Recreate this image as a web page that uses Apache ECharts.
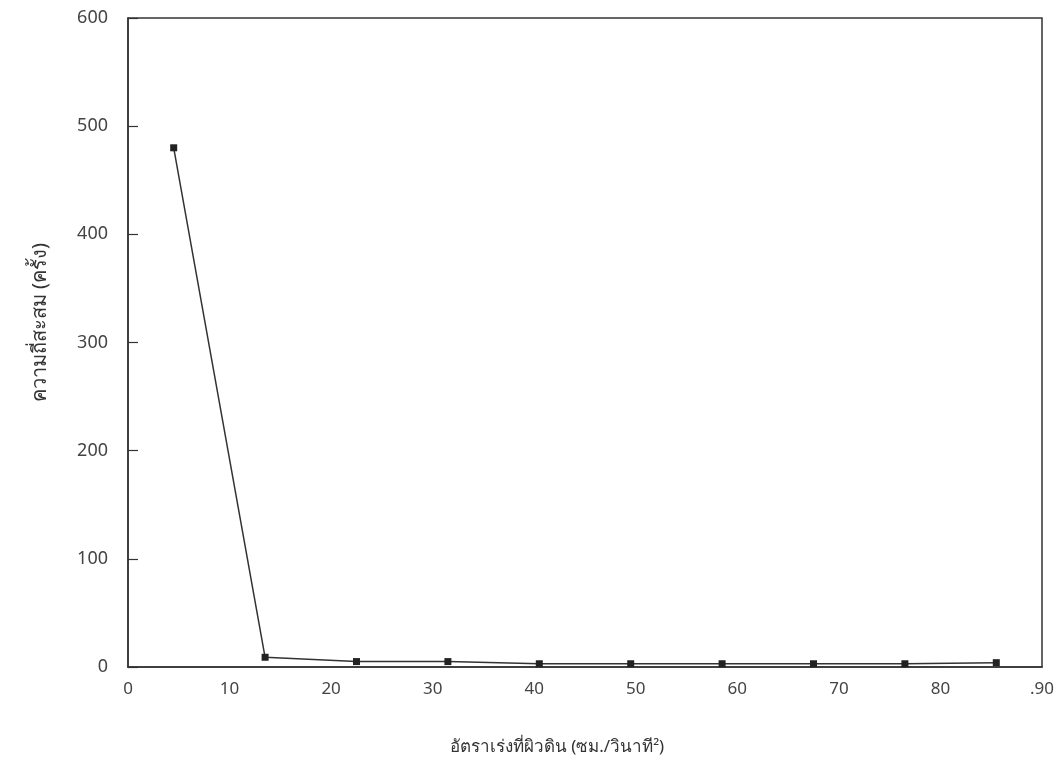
<!DOCTYPE html>
<html>
<head>
<meta charset="utf-8">
<script src="https://cdn.jsdelivr.net/npm/echarts@6/dist/echarts.min.js"></script>
<style>html,body{margin:0;padding:0;background:#fff}#c{width:1060px;height:780px}</style>
</head>
<body>
<div id="c"></div>
<script>
const xValues = [4.5, 13.5, 22.5, 31.5, 40.5, 49.5, 58.5, 67.5, 76.5, 85.5];
const yValues = [480, 9, 5, 5, 3, 3, 3, 3, 3, 4];
const xTitle = 'อัตราเร่งที่ผิวดิน (ซม./วินาที²)';
const yTitle = 'ความถี่สะสม (ครั้ง)';

const font = '"Noto Sans", "DejaVu Sans", sans-serif';
const chart = echarts.init(document.getElementById('c'));
chart.setOption({
  backgroundColor: '#fff',
  animation: false,
  grid: {left: 128, right: 18, top: 18, bottom: 113, containLabel: false, outerBoundsMode: 'none',
    show: true, borderColor: '#333', borderWidth: 1.5, backgroundColor: 'transparent'},
  xAxis: {
    type: 'value', min: 0, max: 90, interval: 10,
    name: xTitle, nameLocation: 'middle', nameGap: 72,
    nameTextStyle: {color: '#333', fontSize: 17, fontFamily: font, padding: [0, 56, 0, 0]},
    axisLine: {show: true, lineStyle: {color: '#333', width: 1.5}},
    axisTick: {show: false},
    splitLine: {show: false},
    axisLabel: {color: '#444', fontSize: 17, margin: 14, fontFamily: font,
      formatter: v => v === 90 ? '.90' : String(v)}
  },
  yAxis: {
    type: 'value', min: 0, max: 600, interval: 100,
    name: yTitle, nameLocation: 'middle', nameGap: 78, nameRotate: 90,
    nameTextStyle: {color: '#333', fontSize: 20, fontFamily: font, padding: [0, 0, 0, 40]},
    axisLine: {show: true, lineStyle: {color: '#333', width: 1.5}},
    axisTick: {show: true, inside: true, length: 10, lineStyle: {color: '#333', width: 1.2}},
    splitLine: {show: false},
    axisLabel: {color: '#444', fontSize: 18, margin: 20, fontFamily: font}
  },
  series: [{
    type: 'line',
    data: xValues.map((x, i) => [x, yValues[i]]),
    symbol: 'rect', symbolSize: 7,
    itemStyle: {color: '#222'},
    lineStyle: {color: '#333', width: 1.5}
  }]
});
</script>
</body>
</html>
